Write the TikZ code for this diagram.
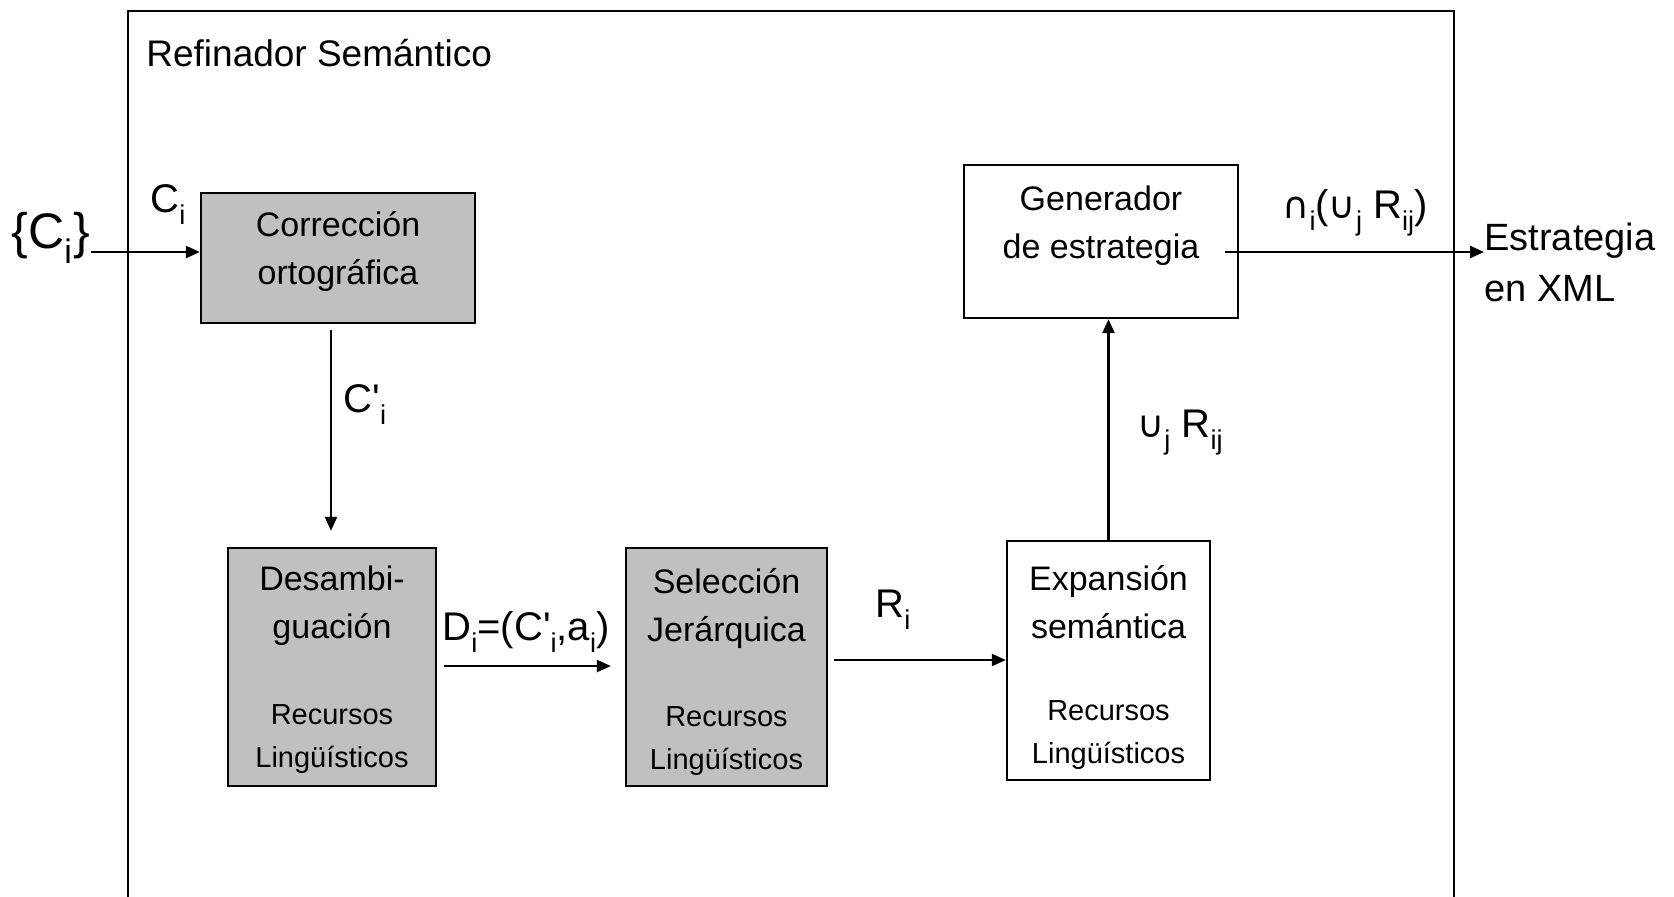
\documentclass[tikz,border=0pt]{standalone}
\usepackage{fontspec}
\setmainfont{Liberation Sans}
\newfontfamily\dejavu{DejaVu Sans}
\usetikzlibrary{arrows.meta}
\definecolor{boxgray}{HTML}{C0C0C0}
\newcommand\sbs[1]{\raisebox{-0.3em}{\scalebox{0.68}{#1}}}
\newcommand\fs[2]{\fontsize{#1}{#2}\selectfont}
\newcommand\opsym[1]{{\dejavu\fs{18.5}{22}#1}}
\begin{document}
\begin{tikzpicture}[x=0.5pt,y=-0.5pt,
  gbox/.style={draw, line width=1.15pt, fill=boxgray, inner sep=0pt},
  wbox/.style={draw, line width=1.15pt, fill=white, inner sep=0pt},
  btxt/.style={align=center, font=\fs{17}{24}, inner sep=0pt},
  rtxt/.style={align=center, font=\fs{14.5}{21.5}, inner sep=0pt},
  lbl/.style={font=\fs{20}{24}, inner sep=0pt},
  arr/.style={line width=1.15pt, -{Triangle[length=7pt,width=6pt]}}]
\useasboundingbox (0,0) rectangle (1674,896);
% frame
\draw[line width=1.15pt] (128,905) -- (128,11) -- (1454,11) -- (1454,905);
\node[font=\fs{18.5}{22}, anchor=base west, inner sep=0pt] (title) at (146,66) {Refinador Semántico};
% boxes
\node[gbox, minimum width=137pt, minimum height=65pt] (corr) at (338,258) {};
\node[wbox, minimum width=137pt, minimum height=76.5pt] (gen) at (1101,241.5) {};
\node[gbox, minimum width=104pt, minimum height=119pt] (desa) at (332,667) {};
\node[gbox, minimum width=100.5pt, minimum height=119pt] (sel) at (726.5,667) {};
\node[wbox, minimum width=101.5pt, minimum height=119.5pt] (exp) at (1108.5,660.5) {};
% box texts
\node[btxt] (corrT) at (338,251) {Corrección\\ortográfica};
\node[btxt] (genT) at (1101,226) {Generador\\de estrategia};
\node[btxt] (desaT) at (332,606) {Desambi-\\guación};
\node[rtxt] (desaR) at (332,739.5) {Recursos\\Lingüísticos};
\node[btxt] (selT) at (726.5,608) {Selección\\Jerárquica};
\node[rtxt] (selR) at (726.5,741.5) {Recursos\\Lingüísticos};
\node[btxt] (expT) at (1108.5,602) {Expansión\\semántica};
\node[rtxt] (expR) at (1108.5,735.5) {Recursos\\Lingüísticos};
% input / output
\node[font=\fs{25}{30}, inner sep=0pt] (cin) at (51,238) {\{C\sbs{i}\kern1pt\}};
\node[font=\fs{19}{25.5}, align=left, anchor=west, inner sep=0pt] (out) at (1484,262) {Estrategia\\en XML};
% labels
\node[lbl] (lci) at (168,205) {C\sbs{i}};
\node[lbl] (lcp) at (365,405) {C\textquotesingle\sbs{i}};
\node[lbl] (ld) at (526,632) {D\sbs{i}=(C\textquotesingle\sbs{i},a\sbs{i})};
\node[lbl] (lr) at (893,610) {R\sbs{i}};
\node[lbl] (lu) at (1180,433) {\opsym{∪}\sbs{j} R\sbs{ij}};
\node[lbl] (ln) at (1355,213) {\opsym{∩}\sbs{i}(\opsym{∪}\sbs{j} R\sbs{ij})};
% connectors
\coordinate (cinA) at ([shift={(0,14)}]cin.east);
\draw[arr] (cinA) -- (cinA -| corr.west);
\draw[arr] ([shift={(-7,6)}]corr.south) -- ([shift={(-1,-16)}]desa.north);
\draw[arr] ([shift={(7,-1)}]desa.east) -- ([shift={(-14,-1)}]sel.west);
\coordinate (s1) at ([shift={(6,-7)}]sel.east);
\draw[arr] (s1) -- (s1 -| exp.west);
\draw[arr] (exp.north) -- (exp.north |- gen.south);
\coordinate (g1) at ([shift={(-14,10.5)}]gen.east);
\draw[arr] (g1) -- (g1 -| out.west);
\end{tikzpicture}
\end{document}
